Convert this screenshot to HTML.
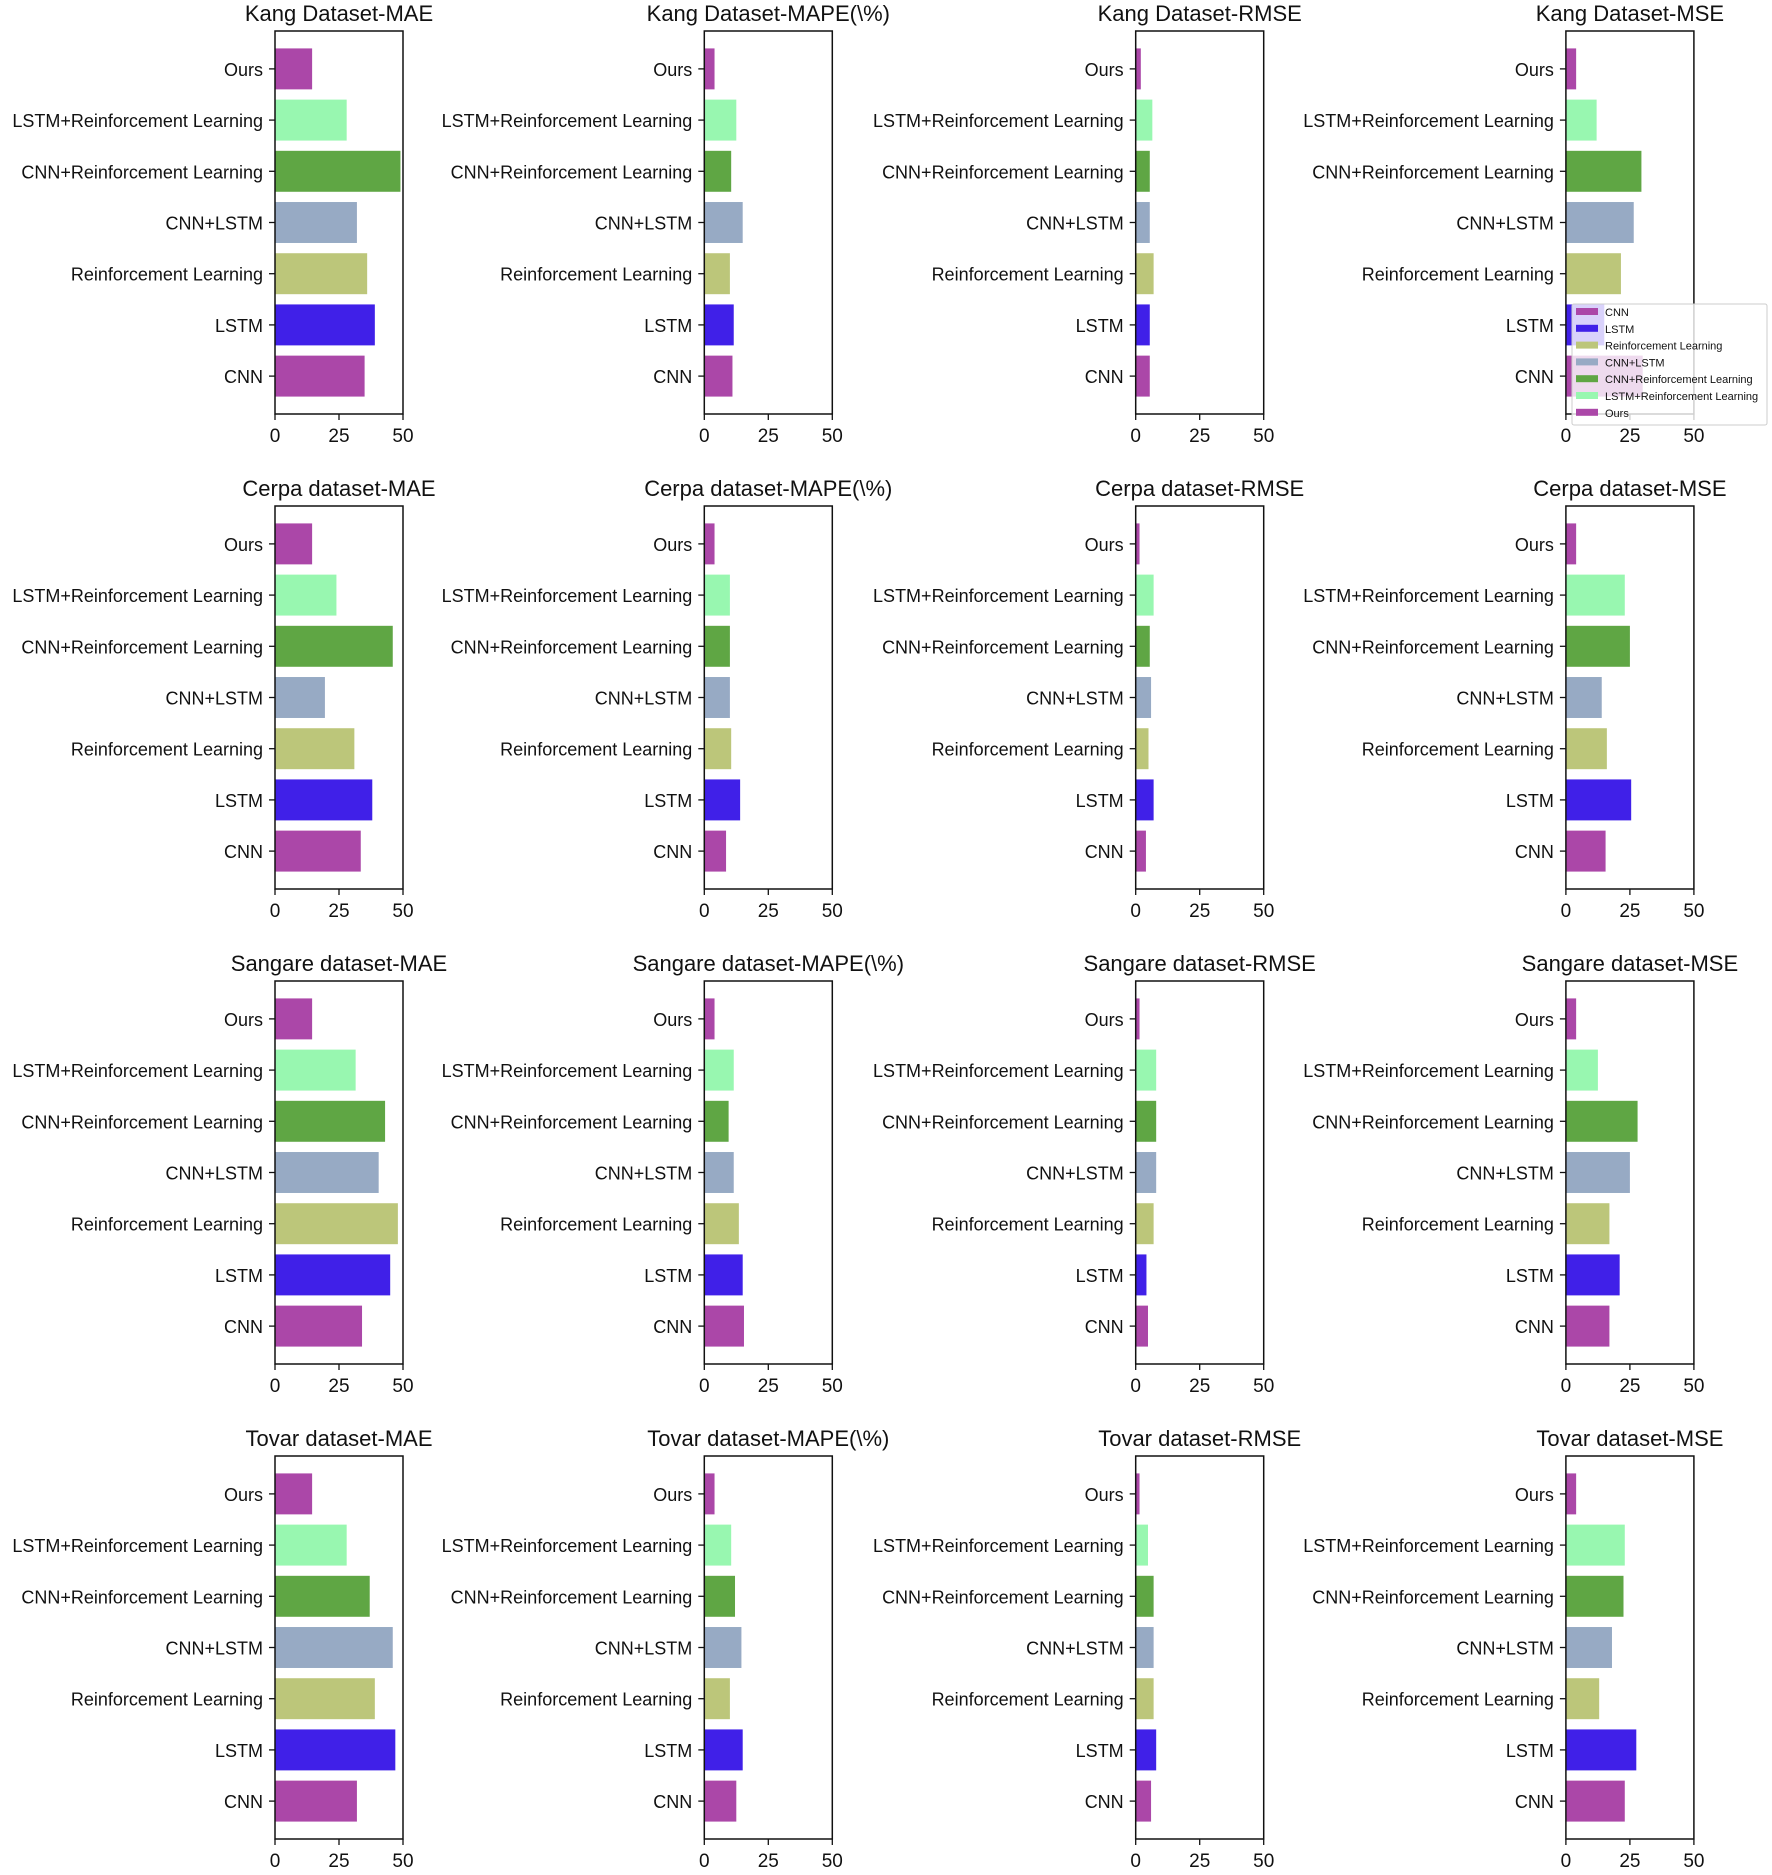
<!DOCTYPE html>
<html><head><meta charset="utf-8">
<style>
html,body{margin:0;padding:0;background:#fff;}
svg text{font-family:"Liberation Sans",sans-serif;fill:#111;}
</style></head>
<body>
<svg id="fig" width="1772" height="1870" xmlns="http://www.w3.org/2000/svg"></svg>
<script>
const categories = ["CNN","LSTM","Reinforcement Learning","CNN+LSTM","CNN+Reinforcement Learning","LSTM+Reinforcement Learning","Ours"];
const colors = ["#ab47a8","#4020e8","#bcc67a","#97aac4","#5fa644","#98f7b0","#ab47a8"];
const datasets = ["Kang Dataset","Cerpa dataset","Sangare dataset","Tovar dataset"];
const metrics = ["MAE","MAPE(\\%)","RMSE","MSE"];
const xTicks = [0,25,50];
const kangMAE = [35,39,36,32,49,28,14.5];
const kangMAPE = [11,11.5,10,15,10.5,12.5,4];
const kangRMSE = [5.5,5.5,7,5.5,5.5,6.5,2];
const kangMSE = [30,15,21.5,26.5,29.5,12,4];
const cerpaMAE = [33.5,38,31,19.5,46,24,14.5];
const cerpaMAPE = [8.5,14,10.5,10,10,10,4];
const cerpaRMSE = [4,7,5,6,5.5,7,1.5];
const cerpaMSE = [15.5,25.5,16,14,25,23,4];
const sangareMAE = [34,45,48,40.5,43,31.5,14.5];
const sangareMAPE = [15.5,15,13.5,11.5,9.5,11.5,4];
const sangareRMSE = [4.8,4.2,7,8,8,8,1.5];
const sangareMSE = [17,21,17,25,28,12.5,4];
const tovarMAE = [32,47,39,46,37,28,14.5];
const tovarMAPE = [12.5,15,10,14.5,12,10.5,4];
const tovarRMSE = [6,8,7,7,7,4.8,1.5];
const tovarMSE = [23,27.5,13,18,22.5,23,4];
const allValues = [
  [kangMAE,kangMAPE,kangRMSE,kangMSE],
  [cerpaMAE,cerpaMAPE,cerpaRMSE,cerpaMSE],
  [sangareMAE,sangareMAPE,sangareRMSE,sangareMSE],
  [tovarMAE,tovarMAPE,tovarRMSE,tovarMSE]
];

const NS="http://www.w3.org/2000/svg";
const svg=document.getElementById('fig');
function mk(tag,attrs,parent){const e=document.createElementNS(NS,tag);for(const k in attrs)e.setAttribute(k,attrs[k]);(parent||svg).appendChild(e);return e;}
const colX=[275,704.3,1135.7,1565.9], rowY=[31,506,981,1456];
const W=128,H=383,xmin=0,xmax=50,ymin=-0.74,ymax=6.74;

for(let r=0;r<4;r++){for(let c=0;c<4;c++){
  const L=colX[c],T=rowY[r];
  const g=mk('g',{});
  
  
  const sx=v=>L+(v-xmin)/(xmax-xmin)*W;
  const sy=v=>T+H-(v-ymin)/(ymax-ymin)*H;
  const vals=allValues[r][c];
  vals.forEach((v,i)=>{
    const b=mk('rect',{x:sx(0),y:sy(i+0.4),width:sx(v)-sx(0),height:sy(i-0.4)-sy(i+0.4),fill:colors[i]},g);
    
    
    mk('line',{x1:L-6,x2:L,y1:sy(i),y2:sy(i),stroke:'#111','stroke-width':1.3},g);
    const t=mk('text',{x:L-12,y:sy(i)+7,'font-size':18,'text-anchor':'end'},g);
    t.textContent=categories[i];
    
    
  });
  const fr=mk('rect',{x:L,y:T,width:W,height:H,fill:'none',stroke:'#111','stroke-width':1.5},g);
  
  
  xTicks.forEach(v=>{
    mk('line',{x1:sx(v),x2:sx(v),y1:T+H,y2:T+H+6,stroke:'#111','stroke-width':1.3},g);
    const t=mk('text',{x:sx(v),y:T+H+28,'font-size':19,'text-anchor':'middle'},g);
    t.textContent=v;
    
    
  });
  const tt=mk('text',{x:L+W/2,y:T-10,'font-size':22,'text-anchor':'middle'},g);
  tt.textContent=datasets[r]+'-'+metrics[c];
  
  
}}
// legend
const lg=mk('g',{});


mk('rect',{x:1572,y:304,width:195,height:121,fill:'#fff','fill-opacity':0.8,stroke:'#ccc','stroke-width':1,rx:2},lg);
categories.forEach((cat,i)=>{
  const y=312+i*16.8;
  const sw=mk('rect',{x:1576,y:y-4,width:22,height:7,fill:colors[i]},lg);
  
  
  const t=mk('text',{x:1605,y:y+4,'font-size':11},lg);
  t.textContent=cat;
  
  
});
</script>
</body></html>
